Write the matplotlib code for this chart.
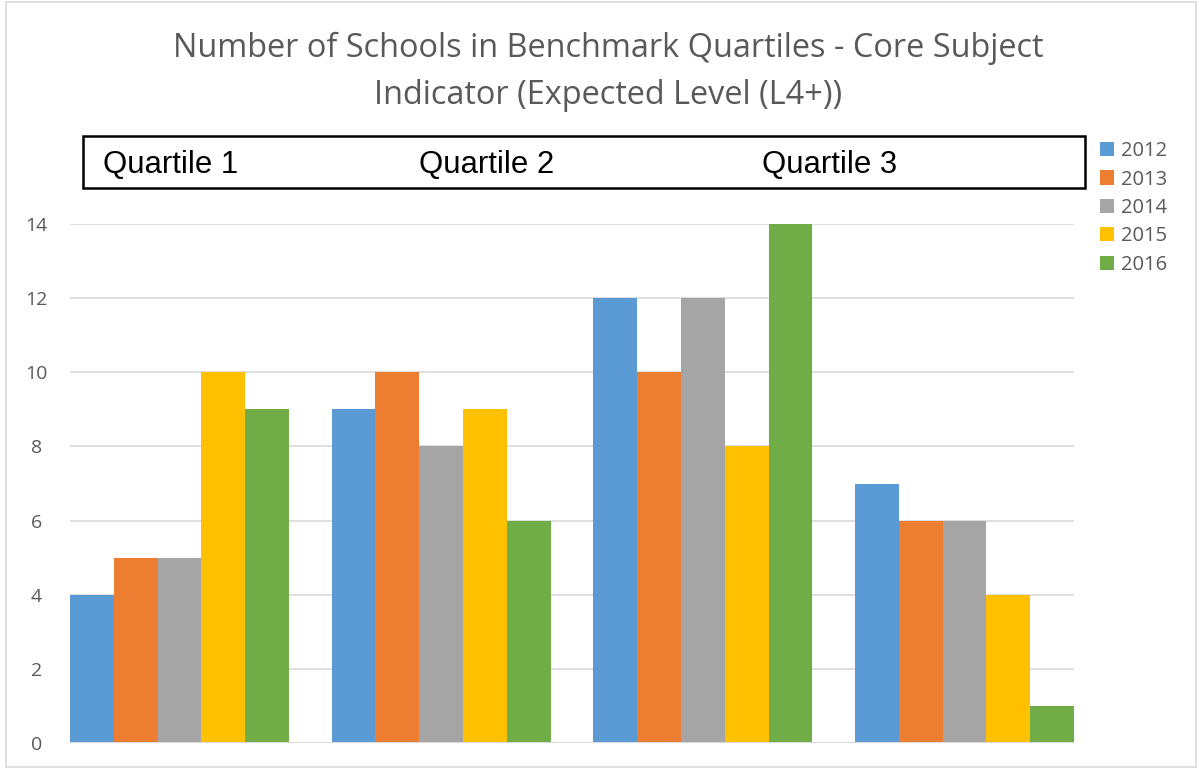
import numpy as np
import matplotlib
matplotlib.use("Agg")
import matplotlib.pyplot as plt
from matplotlib.patches import Rectangle

# ─── DATA ────────────────────────────────────────────────────────────────────
years = ["2012", "2013", "2014", "2015", "2016"]
groups = ["G1", "G2", "G3", "G4"]
v2012 = [4, 9, 12, 7]
v2013 = [5, 10, 10, 6]
v2014 = [5, 8, 12, 6]
v2015 = [10, 9, 8, 4]
v2016 = [9, 6, 14, 1]
box_labels = ["Quartile 1", "Quartile 2", "Quartile 3"]
yticks = [0, 2, 4, 6, 8, 10, 12, 14]

series = [v2012, v2013, v2014, v2015, v2016]
colors = ["#5B9BD5", "#ED7D31", "#A5A5A5", "#FFC000", "#70AD47"]
TXT = "#595959"

W, H = 1200, 769
fig = plt.figure(figsize=(W / 100, H / 100), dpi=100)
plt.rcParams['font.family'] = ['Open Sans', 'DejaVu Sans']

# outer chart border
fig.patches.append(Rectangle((6 / W, 2 / H), (W - 10) / W, (H - 4) / H,
                             transform=fig.transFigure, fill=False,
                             edgecolor="#d9d9d9", linewidth=1.2))

# plot area: x 70..1074, y 224..743 (pixels)
ax = fig.add_axes([70 / W, (H - 743) / H, (1074 - 70) / W, (743 - 224) / H])

n = len(series)
grp = 219 / 262           # fraction of category occupied by bars
bw = grp / n
x = np.arange(len(groups))
for i, (vals, c, lab) in enumerate(zip(series, colors, years)):
    ax.bar(x - grp / 2 + bw * (i + 0.5), vals, width=bw, color=c,
           label=lab, zorder=3, linewidth=0)

ax.set_xlim(-grp / 2, len(groups) - 1 + grp / 2)
ax.set_ylim(0, 14)
ax.set_yticks(yticks)
ax.set_xticks([])
ax.grid(axis="y", color="#d9d9d9", linewidth=1.2, zorder=0)
for s in ax.spines.values():
    s.set_visible(False)
ax.axhline(0, color="#d9d9d9", linewidth=1.5, zorder=4)
ax.tick_params(axis="y", length=0, labelsize=14, labelcolor=TXT, pad=24)
for t in ax.get_yticklabels():
    t.set_horizontalalignment("center")

# title
fig.text(608 / W, 1 - 48 / H,
         "Number of Schools in Benchmark Quartiles - Core Subject",
         ha="center", va="center", fontsize=23.4, color=TXT)
fig.text(608 / W, 1 - 95 / H, "Indicator (Expected Level (L4+))",
         ha="center", va="center", fontsize=23.4, color=TXT)

# quartile box
fig.patches.append(Rectangle((83 / W, 1 - 188 / H), (1085 - 83) / W, (188 - 136) / H,
                             transform=fig.transFigure, fill=False,
                             edgecolor="black", linewidth=1.8))
for lab, px in zip(box_labels, [103, 419, 762]):
    fig.text(px / W, 1 - 165 / H, lab, ha="left", va="center",
             fontsize=22.4, color="black", family=["Liberation Sans", "DejaVu Sans"])

# legend
leg = fig.legend(loc="upper left", bbox_to_anchor=(1092 / W, 1 - 133 / H),
                 frameon=False, fontsize=14.5, labelcolor=TXT,
                 handlelength=0.7, handleheight=0.7, handletextpad=0.35,
                 labelspacing=0.42, borderaxespad=0)

fig.savefig("out.png", dpi=100)
